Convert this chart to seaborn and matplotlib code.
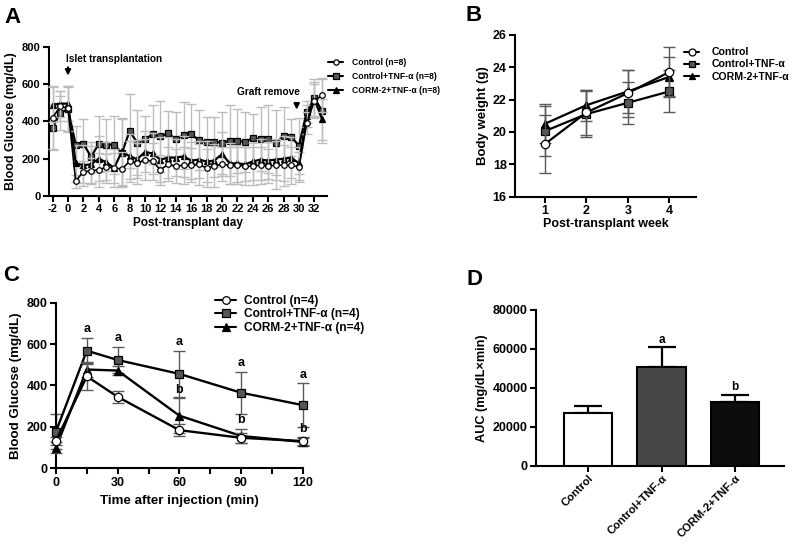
import numpy as np
import pandas as pd
import matplotlib
matplotlib.use("Agg")
import matplotlib.pyplot as plt
import seaborn as sns
from matplotlib.lines import Line2D
from matplotlib.ticker import MultipleLocator

# ---------------- data ----------------
# Panel A: blood glucose over post-transplant days
days_a = list(range(-2, 34))
ctrl_a = [420, 480, 470, 80, 130, 135, 140, 155, 150, 145, 185, 175, 195, 185, 140, 170, 160, 165,
          165, 170, 150, 160, 170, 165, 165, 160, 160, 165, 160, 165, 165, 165, 155, 390, 510, 540]
ctrl_a_err = [170, 80, 120, 35, 60, 70, 90, 70, 80, 90, 110, 110, 110, 100, 80, 90, 90, 100,
              90, 110, 100, 110, 90, 100, 100, 100, 100, 100, 90, 130, 110, 100, 80, 60, 90, 90]
tnf_a = [365, 445, 465, 275, 280, 210, 280, 275, 275, 230, 348, 285, 305, 330, 320, 335, 305, 325,
         330, 300, 290, 290, 285, 295, 295, 290, 310, 305, 305, 285, 320, 315, 270, 450, 525, 455]
tnf_a_err = [120, 90, 120, 100, 130, 80, 150, 140, 155, 180, 200, 175, 125, 160, 190, 120, 145, 180,
             165, 160, 135, 135, 165, 190, 170, 160, 130, 170, 180, 175, 155, 100, 150, 60, 100, 170]
corm_a = [490, 495, 495, 175, 165, 170, 200, 180, 150, 240, 212, 198, 236, 228, 195, 205, 206, 212,
          190, 195, 185, 190, 225, 175, 175, 170, 185, 195, 190, 195, 200, 205, 175, 430, 520, 410]
corm_a_err = [95, 70, 95, 100, 110, 100, 120, 110, 100, 180, 120, 100, 110, 110, 120, 110, 100, 110,
              100, 100, 110, 90, 120, 110, 100, 90, 100, 110, 100, 110, 120, 110, 90, 60, 90, 110]

# Panel B: body weight
weeks_b = [1, 2, 3, 4]
ctrl_b = [19.25, 21.2, 22.4, 23.7]
ctrl_b_err = [1.8, 1.4, 1.45, 1.55]
tnf_b = [20.05, 21.1, 21.8, 22.5]
tnf_b_err = [1.55, 1.4, 1.3, 1.3]
corm_b = [20.5, 21.65, 22.5, 23.4]
corm_b_err = [1.2, 0.95, 1.35, 1.2]

# Panel C: glucose tolerance
time_c = [0, 15, 30, 60, 90, 120]
ctrl_c = [132, 444, 345, 184, 147, 131]
ctrl_c_err = [20, 66, 30, 30, 25, 18]
tnf_c = [177, 568, 523, 456, 365, 305]
tnf_c_err = [84, 63, 65, 111, 101, 105]
corm_c = [100, 477, 472, 254, 156, 127]
corm_c_err = [25, 35, 22, 84, 33, 20]
letters_a_c = ['', 'a', 'a', 'a', 'a', 'a']
letters_b_c = ['', '', '', 'b', 'b', 'b']

# Panel D: AUC
groups_d = ['Control', 'Control+TNF-α', 'CORM-2+TNF-α']
auc_d = [27400, 50700, 33000]
auc_d_err = [3300, 10300, 3600]
letters_d = ['', 'a', 'b']

# ---------------- style ----------------
sns.set_theme(style="ticks")
plt.rcParams['font.family'] = ['Liberation Sans', 'DejaVu Sans']
plt.rcParams.update({
    'font.weight': 'bold',
    'axes.labelweight': 'bold',
    'axes.linewidth': 1.5,
    'axes.edgecolor': 'black',
    'axes.labelcolor': 'black',
    'text.color': 'black',
    'xtick.color': 'black',
    'ytick.color': 'black',
    'xtick.major.width': 1.5,
    'ytick.major.width': 1.5,
    'xtick.minor.width': 1.5,
    'xtick.major.size': 4,
    'ytick.major.size': 4,
    'xtick.minor.size': 4,
    'axes.unicode_minus': False,
})

fig = plt.figure(figsize=(7.95, 5.44), dpi=100)
axA = fig.add_axes([0.0613, 0.6397, 0.3497, 0.2745])
axB = fig.add_axes([0.6478, 0.6384, 0.2277, 0.2978])
axC = fig.add_axes([0.0704, 0.1393, 0.3104, 0.3043])
axD = fig.add_axes([0.6742, 0.1434, 0.3123, 0.2868])

SQ_FACE = '#555555'


def series(ax, x, y, err, marker, mfc, ms, ecolor, capsize, elw, lw, z):
    ax.errorbar(x, y, yerr=err, fmt='none', ecolor=ecolor, elinewidth=elw,
                capsize=capsize, capthick=elw, zorder=z, clip_on=False)
    sns.lineplot(x=x, y=y, ax=ax, color='black', linewidth=lw, marker=marker,
                 markersize=ms, markerfacecolor=mfc, markeredgecolor='black',
                 markeredgewidth=0.9, zorder=z + 1, clip_on=False, legend=False,
                 errorbar=None)


def style_axes(ax, tick_fs):
    sns.despine(ax=ax)
    ax.tick_params(axis='both', which='both', direction='out', labelsize=tick_fs, pad=2)
    for lab in ax.get_xticklabels() + ax.get_yticklabels():
        lab.set_fontweight('bold')


def make_handles(ms):
    return [
        Line2D([], [], color='black', lw=1.5, marker='o', markersize=ms,
               markerfacecolor='white', markeredgecolor='black', markeredgewidth=0.9),
        Line2D([], [], color='black', lw=1.5, marker='s', markersize=ms,
               markerfacecolor=SQ_FACE, markeredgecolor='black', markeredgewidth=0.9),
        Line2D([], [], color='black', lw=1.5, marker='^', markersize=ms,
               markerfacecolor='black', markeredgecolor='black', markeredgewidth=0.9),
    ]

# ---------------- Panel A ----------------
eg = '#bdbdbd'
series(axA, days_a, tnf_a, tnf_a_err, 's', SQ_FACE, 4.3, eg, 3.5, 1.0, 1.6, 2)
series(axA, days_a, corm_a, corm_a_err, '^', 'black', 4.8, eg, 3.5, 1.0, 1.6, 4)
series(axA, days_a, ctrl_a, ctrl_a_err, 'o', 'white', 4.0, eg, 3.5, 1.0, 1.2, 6)
axA.set_xlim(-2.5, 33.6)
axA.set_ylim(0, 800)
axA.set_xticks(list(range(-2, 33, 2)))
axA.set_xticklabels([str(v) for v in range(-2, 33, 2)])
axA.set_yticks([0, 200, 400, 600, 800])
axA.set_xlabel('Post-transplant day', fontsize=8.5, labelpad=2)
axA.set_ylabel('Blood Glucose (mg/dL)', fontsize=9, labelpad=3)
style_axes(axA, 8)
axA.annotate('', xy=(0, 630), xytext=(0, 705),
             arrowprops=dict(arrowstyle='-|>', color='black', lw=1.4, mutation_scale=8))
axA.text(-0.2, 734, 'Islet transplantation', ha='left', va='center', fontsize=7.3, fontweight='bold')
axA.annotate('', xy=(29.7, 448), xytext=(29.7, 505),
             arrowprops=dict(arrowstyle='-|>', color='black', lw=1.4, mutation_scale=8))
axA.text(30.1, 555, 'Graft remove', ha='right', va='center', fontsize=7.3, fontweight='bold')
fig.legend(make_handles(3.8), ['Control (n=8)', 'Control+TNF-α (n=8)', 'CORM-2+TNF-α (n=8)'],
           loc='upper left', bbox_to_anchor=(0.413, 0.893), frameon=False,
           handlelength=1.7, handletextpad=1.0, labelspacing=0.55, borderpad=0, borderaxespad=0,
           prop={'weight': 'bold', 'size': 6.2})

# ---------------- Panel B ----------------
eb = '#5a5a5a'
series(axB, weeks_b, tnf_b, tnf_b_err, 's', SQ_FACE, 6, eb, 4, 1.0, 1.6, 2)
series(axB, weeks_b, corm_b, corm_b_err, '^', 'black', 6, eb, 4, 1.0, 1.6, 4)
series(axB, weeks_b, ctrl_b, ctrl_b_err, 'o', 'white', 6, eb, 4, 1.0, 1.6, 6)
axB.set_xlim(0.28, 4.64)
axB.set_ylim(16, 26)
axB.set_xticks(weeks_b)
axB.set_yticks([16, 18, 20, 22, 24, 26])
axB.set_xlabel('Post-transplant week', fontsize=9, labelpad=1)
axB.set_ylabel('Body weight (g)', fontsize=9.5, labelpad=3)
style_axes(axB, 9)
fig.legend(make_handles(5), ['Control', 'Control+TNF-α', 'CORM-2+TNF-α'],
           loc='upper left', bbox_to_anchor=(0.861, 0.913), frameon=False,
           handlelength=1.4, handletextpad=1.15, labelspacing=0.2, borderpad=0, borderaxespad=0,
           prop={'weight': 'bold', 'size': 7.6})

# ---------------- Panel C ----------------
series(axC, time_c, tnf_c, tnf_c_err, 's', SQ_FACE, 6, eb, 4, 1.0, 1.7, 2)
series(axC, time_c, corm_c, corm_c_err, '^', 'black', 6, eb, 4, 1.0, 1.7, 4)
series(axC, time_c, ctrl_c, ctrl_c_err, 'o', 'white', 6, eb, 4, 1.0, 1.7, 6)
axC.set_xlim(0, 120)
axC.set_ylim(0, 800)
axC.set_xticks([0, 30, 60, 90, 120])
axC.xaxis.set_minor_locator(MultipleLocator(15))
axC.set_yticks([0, 200, 400, 600, 800])
axC.set_xlabel('Time after injection (min)', fontsize=9.6, labelpad=5)
axC.set_ylabel('Blood Glucose (mg/dL)', fontsize=9.6, labelpad=3)
style_axes(axC, 9)
for xv, yv, ev, lab in zip(time_c, tnf_c, tnf_c_err, letters_a_c):
    if lab:
        axC.annotate(lab, (xv, yv + ev), xytext=(0, 2), textcoords='offset points',
                     ha='center', va='bottom', fontsize=9, fontweight='bold')
for xv, yv, ev, lab in zip(time_c, corm_c, corm_c_err, letters_b_c):
    if lab:
        axC.annotate(lab, (xv, yv + ev), xytext=(0, 2), textcoords='offset points',
                     ha='center', va='bottom', fontsize=9, fontweight='bold')
fig.legend(make_handles(5.5), ['Control (n=4)', 'Control+TNF-α (n=4)', 'CORM-2+TNF-α (n=4)'],
           loc='upper left', bbox_to_anchor=(0.271, 0.458), frameon=False,
           handlelength=1.7, handletextpad=0.7, labelspacing=0.12, borderpad=0, borderaxespad=0,
           prop={'weight': 'bold', 'size': 8.6})

# ---------------- Panel D ----------------
df_d = pd.DataFrame({'group': groups_d, 'auc': auc_d})
sns.barplot(data=df_d, x='group', y='auc', hue='group', ax=axD,
            palette=['white', '#474747', '#0d0d0d'], edgecolor='black', linewidth=1.5,
            width=0.66, errorbar=None, legend=False, zorder=3)
axD.errorbar(range(len(groups_d)), auc_d, yerr=[[0] * len(auc_d), auc_d_err], fmt='none',
             ecolor='black', elinewidth=1.6, capsize=10, capthick=1.6, zorder=2)
for i, (v, e, lab) in enumerate(zip(auc_d, auc_d_err, letters_d)):
    if lab:
        axD.annotate(lab, (i, v + e), xytext=(0, 1), textcoords='offset points',
                     ha='center', va='bottom', fontsize=8.5, fontweight='bold')
axD.set_xlim(-0.71, 2.67)
axD.set_ylim(0, 80000)
axD.set_yticks([0, 20000, 40000, 60000, 80000])
axD.set_xlabel('')
axD.set_ylabel('AUC (mg/dL×min)', fontsize=9.2, labelpad=3)
style_axes(axD, 9)
axD.set_xticks(range(len(groups_d)))
axD.set_xticklabels(groups_d, rotation=45, ha='right', va='top', rotation_mode='anchor',
                    fontsize=8.1, fontweight='bold')
axD.tick_params(axis='x', pad=1)

# ---------------- panel letters ----------------
for x, y, t in [(0.005, 0.987, 'A'), (0.586, 0.99, 'B'), (0.004, 0.512, 'C'), (0.587, 0.505, 'D')]:
    fig.text(x, y, t, fontsize=16, fontweight='bold', va='top', ha='left')

fig.savefig('out.png', dpi=100)
